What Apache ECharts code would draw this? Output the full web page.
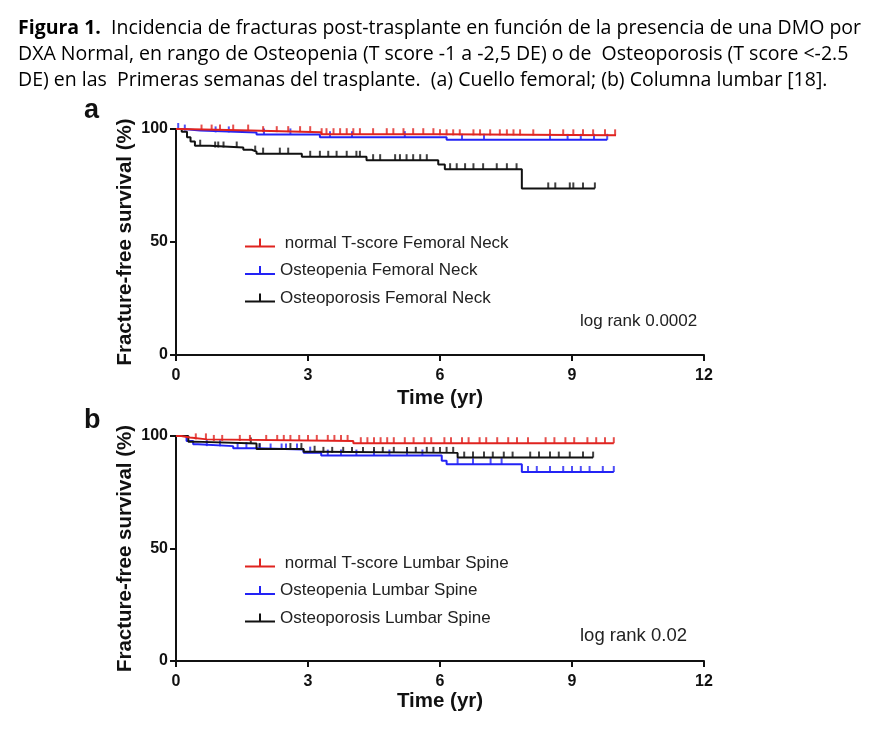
<!DOCTYPE html>
<html><head><meta charset="utf-8">
<script src="https://cdn.jsdelivr.net/npm/echarts@6/dist/echarts.min.js"></script>
<style>html,body{margin:0;padding:0;background:#fff}#c{width:874px;height:730px}</style>
</head><body><div id="c"></div>
<script>
// ---- data ----
const timeTicks = [0, 3, 6, 9, 12];
const survTicks = [0, 50, 100];

const namesA = [' normal T-score Femoral Neck', 'Osteopenia Femoral Neck', 'Osteoporosis Femoral Neck'];
const namesB = [' normal T-score Lumbar Spine', 'Osteopenia Lumbar Spine', 'Osteoporosis Lumbar Spine'];

// Kaplan-Meier steps [time (yr), fracture-free survival (%)]
const normalFN = [[0,100],[0.1,99.3],[1.7,98.6],[3.3,97.7],[6.0,97.2],[10.0,97.2]];
const osteopeniaFN = [[0,100],[0.17,99.3],[0.55,98.5],[1.83,97.6],[3.27,96.4],[6.15,95.2],[9.8,95.2]];
const osteoporosisFN = [[0,100],[0.13,98.8],[0.25,96.3],[0.33,94.5],[0.43,92.6],[0.77,91.8],[1.53,90.8],[1.72,90.0],[1.83,89.1],[2.86,87.7],[4.33,86.2],[5.96,84.3],[6.11,82.2],[7.86,73.7],[9.52,73.7]];

const normalLS = [[0,100],[0.12,99.3],[0.32,98.5],[0.7,97.8],[4.03,96.8],[9.95,96.8]];
const osteopeniaLS = [[0,100],[0.24,97.8],[0.39,96.3],[0.5,95.5],[1.3,94.6],[1.83,94.0],[2.9,92.6],[3.3,91.3],[6.04,89.0],[6.15,87.5],[7.86,84.0],[9.95,84.0]];
const osteoporosisLS = [[0,100],[0.28,97.5],[0.4,96.7],[1.83,94.2],[2.9,93.0],[3.3,92.5],[6.4,90.4],[9.48,90.4]];

// censored observation times (yr)
const censNormalFN = [0.58,0.81,1.0,1.3,1.64,1.98,2.29,2.55,2.82,3.05,3.31,3.42,3.58,3.73,3.88,4.03,4.18,4.48,4.79,4.94,5.17,5.39,5.62,5.85,6.0,6.15,6.3,6.45,6.76,6.91,7.14,7.36,7.52,7.67,7.82,8.12,8.5,8.8,9.03,9.25,9.48,9.75,9.98];
const censOsteopeniaFN = [0.05,0.2,0.9,1.2,2.0,2.6,3.5,4.0,5.2,6.5,7.0,8.5,8.9,9.2,9.5,9.8];
const censOsteoporosisFN = [0.55,0.89,0.96,1.08,1.38,1.8,1.98,2.36,2.55,3.05,3.27,3.46,3.65,3.88,4.1,4.18,4.48,4.64,4.98,5.09,5.24,5.39,5.55,5.7,6.23,6.38,6.57,6.76,6.98,7.29,7.52,7.74,8.46,8.62,8.95,9.03,9.25,9.52];

const censNormalLS = [0.45,0.68,0.86,1.05,1.45,1.68,2.05,2.3,2.45,2.6,2.8,3.0,3.2,3.45,3.6,3.75,3.9,4.2,4.35,4.5,4.65,4.8,4.95,5.2,5.4,5.65,5.8,6.1,6.25,6.5,6.65,6.9,7.05,7.3,7.55,7.75,8.0,8.4,8.6,8.85,9.05,9.35,9.55,9.75,9.95];
const censOsteopeniaLS = [0.7,1.0,1.4,1.6,1.9,2.15,2.4,2.5,2.75,3.05,3.45,3.75,4.1,4.5,4.85,5.25,5.6,6.4,6.75,7.15,7.4,8.0,8.2,8.5,8.8,9.0,9.2,9.4,9.7,9.95];
const censOsteoporosisLS = [1.7,1.9,2.6,2.85,3.15,3.35,3.55,3.8,4.0,4.25,4.5,4.7,4.95,5.25,5.45,5.7,5.85,6.0,6.15,6.3,6.55,6.75,7.0,7.2,7.45,7.65,8.05,8.25,8.5,8.7,8.95,9.25,9.48];

const pTexts = ['log rank 0.0002', 'log rank 0.02'];
const caption = [
  ['Figura 1.', '  Incidencia de fracturas post-trasplante en función de la presencia de una DMO por'],
  ['', 'DXA Normal, en rango de Osteopenia (T score -1 a -2,5 DE) o de  Osteoporosis (T score <-2.5'],
  ['', 'DE) en las  Primeras semanas del trasplante.  (a) Cuello femoral; (b) Columna lumbar [18].']
];

// ---- styling ----
const RED = '#e0231f', BLUE = '#2323f5', BLACK = '#111111';
const FONT = '"Liberation Sans", Arial, sans-serif';

function stepAt(curve, t) {
  let v = curve[0][1];
  for (const p of curve) { if (p[0] <= t) v = p[1]; }
  return v;
}
function cens(curve, times) { return times.map(t => [t, stepAt(curve, t)]); }

function lineS(name, data, color, idx) {
  return { name, type: 'line', step: 'end', data, xAxisIndex: idx, yAxisIndex: idx,
    showSymbol: false, symbol: 'none', lineStyle: { color, width: 2 }, itemStyle: { color },
    animation: false, silent: true };
}
function censS(name, data, color, idx) {
  return { name, type: 'scatter', data, xAxisIndex: idx, yAxisIndex: idx,
    symbol: 'rect', symbolSize: [2, 6], symbolOffset: [0, -3], itemStyle: { color },
    clip: false, animation: false, silent: true };
}
function xAx(idx, gap) {
  return { type: 'value', gridIndex: idx, min: 0, max: 12, interval: 3,
    name: 'Time (yr)', nameLocation: 'middle', nameGap: gap,
    nameTextStyle: { fontFamily: FONT, fontWeight: 'bold', fontSize: 20.5, color: BLACK },
    axisLine: { lineStyle: { color: BLACK, width: 2 } },
    axisTick: { length: 6, lineStyle: { color: BLACK, width: 2 } },
    axisLabel: { margin: 13, fontFamily: FONT, fontWeight: 'bold', fontSize: 16, color: BLACK },
    splitLine: { show: false } };
}
function yAx(idx) {
  return { type: 'value', gridIndex: idx, min: 0, max: 100, interval: 50,
    name: 'Fracture-free survival (%)', nameLocation: 'middle', nameGap: 40, nameMoveOverlap: false,
    nameTextStyle: { fontFamily: FONT, fontWeight: 'bold', fontSize: 20.5, color: BLACK },
    axisLine: { show: true, lineStyle: { color: BLACK, width: 2 } },
    axisTick: { show: true, length: 6, lineStyle: { color: BLACK, width: 2 } },
    axisLabel: { margin: 8, fontFamily: FONT, fontWeight: 'bold', fontSize: 16, color: BLACK },
    splitLine: { show: false } };
}
const ICON = 'path://M0,7H14V0H16V7H30V9H0Z';
function legend(names, top) {
  return { data: names, orient: 'vertical', left: 245, top, padding: 0,
    icon: ICON, itemWidth: 30, itemHeight: 9, itemGap: 7.5,
    itemStyle: { borderWidth: 0 },
    textStyle: { fontFamily: FONT, fontSize: 17, color: '#222', lineHeight: 20 },
    selectedMode: false };
}

const capLines = caption.map(l => (l[0] ? '{b|' + l[0] + '}' : '') + '{r|' + l[1] + '}').join('\n');

const option = {
  animation: false,
  backgroundColor: '#fff',
  title: { text: capLines, left: 18, top: 15, padding: 0,
    textStyle: { fontWeight: 'normal', rich: {
      b: { fontFamily: '"Open Sans", sans-serif', fontWeight: 'bold', fontSize: 19.5, lineHeight: 26, color: '#000' },
      r: { fontFamily: '"Open Sans", sans-serif', fontWeight: 'normal', fontSize: 19.5, lineHeight: 26, color: '#000' } } } },
  grid: [
    { left: 176, top: 129, width: 528, height: 226 },
    { left: 176, top: 436, width: 528, height: 225 }
  ],
  xAxis: [xAx(0, 33), xAx(1, 30)],
  yAxis: [yAx(0), yAx(1)],
  legend: [legend(namesA, 233), legend(namesB, 553)],
  series: [
    lineS(namesA[1], osteopeniaFN, BLUE, 0),
    lineS(namesA[2], osteoporosisFN, BLACK, 0),
    lineS(namesA[0], normalFN, RED, 0),
    censS(namesA[1], cens(osteopeniaFN, censOsteopeniaFN), BLUE, 0),
    censS(namesA[2], cens(osteoporosisFN, censOsteoporosisFN), BLACK, 0),
    censS(namesA[0], cens(normalFN, censNormalFN), RED, 0),
    lineS(namesB[1], osteopeniaLS, BLUE, 1),
    lineS(namesB[2], osteoporosisLS, BLACK, 1),
    lineS(namesB[0], normalLS, RED, 1),
    censS(namesB[1], cens(osteopeniaLS, censOsteopeniaLS), BLUE, 1),
    censS(namesB[2], cens(osteoporosisLS, censOsteoporosisLS), BLACK, 1),
    censS(namesB[0], cens(normalLS, censNormalLS), RED, 1)
  ],
  graphic: [
    { type: 'text', left: 84, top: 97, style: { text: 'a', fontFamily: FONT, fontWeight: 'bold', fontSize: 27, fill: BLACK } },
    { type: 'text', left: 84, top: 407, style: { text: 'b', fontFamily: FONT, fontWeight: 'bold', fontSize: 27, fill: BLACK } },
    { type: 'text', left: 580, top: 313, style: { text: pTexts[0], fontFamily: FONT, fontSize: 17, fill: '#222' } },
    { type: 'text', left: 580, top: 626, style: { text: pTexts[1], fontFamily: FONT, fontSize: 18.5, fill: '#222' } }
  ]
};
const chart = echarts.init(document.getElementById('c'), null, { renderer: 'canvas' });
chart.setOption(option);
</script></body></html>
